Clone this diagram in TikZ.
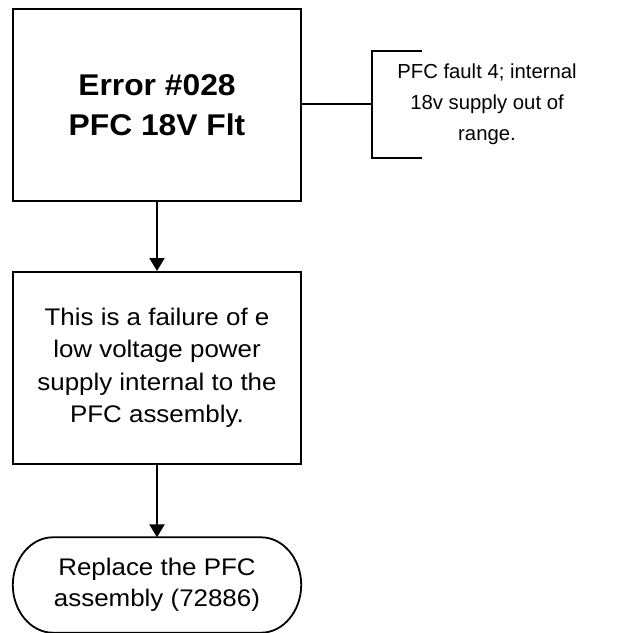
\documentclass[tikz,border=0pt]{standalone}
\usepackage{fontspec}
\setmainfont{Liberation Sans}
\usetikzlibrary{positioning,arrows.meta}

\tikzset{
  flowbox/.style={draw, line width=2pt, rectangle, align=center,
    minimum width=288pt, minimum height=192pt, inner sep=0pt},
  endbox/.style={align=center, minimum width=288pt, minimum height=95pt, inner sep=0pt},
  endline/.style={line width=1.8pt, line join=round},
  flowarrow/.style={line width=2pt, -{Triangle[width=15pt,length=13pt]}},
  bodytext/.style={font=\fontsize{24}{32.5}\selectfont\addfontfeatures{FakeStretch=1.08}}
}

\begin{document}
\begin{tikzpicture}[x=1pt, y=-1pt]
\useasboundingbox (0,0) rectangle (636,632);

\node[flowbox, font=\fontsize{30}{40}\selectfont\bfseries\addfontfeatures{FakeStretch=1.06}] (err) at (157,105) {
Error \#028\\
PFC 18V Flt
};

\node[flowbox, bodytext] (cause) at (157,368) {
This is a failure of e\\
low voltage power\\
supply internal to the\\
PFC assembly.
};

\node[endbox, font=\fontsize{24}{31}\selectfont\addfontfeatures{FakeStretch=1.08}] (fix) at (157,585) {
Replace the PFC\\
assembly (72886)
};
% terminator outline
\draw[endline] ([shift={(40,0)}]fix.north west) -- ([shift={(-40,0)}]fix.north east)
  .. controls ([shift={(-18,0)}]fix.north east) and ([shift={(0,-26)}]fix.east) .. (fix.east)
  .. controls ([shift={(0,26)}]fix.east) and ([shift={(-18,0)}]fix.south east) .. ([shift={(-40,0)}]fix.south east)
  -- ([shift={(40,0)}]fix.south west)
  .. controls ([shift={(18,0)}]fix.south west) and ([shift={(0,26)}]fix.west) .. (fix.west)
  .. controls ([shift={(0,-26)}]fix.west) and ([shift={(18,0)}]fix.north west) .. cycle;

% comment bracket
\node[align=center, font=\fontsize{20.3}{31}\selectfont] (note) at (487,104) {
PFC fault 4; internal\\
18v supply out of\\
range.
};
\coordinate (brk) at (372,104);
\draw[line width=2pt] (err.east |- brk) -- (brk);
\draw[line width=2pt] ([xshift=50pt]brk |- 0,51) -- (brk |- 0,51) -- (brk |- 0,158) -- ([xshift=50pt]brk |- 0,158);

\draw[flowarrow] (err) -- (cause);
\draw[flowarrow] (cause) -- (fix);

\end{tikzpicture}
\end{document}
